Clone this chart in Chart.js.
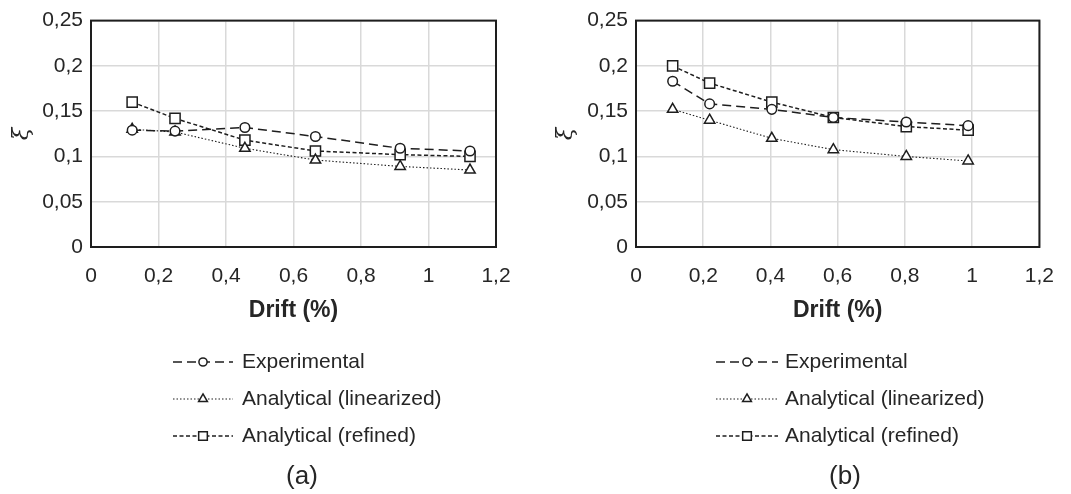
<!DOCTYPE html>
<html>
<head>
<meta charset="utf-8">
<script src="https://cdn.jsdelivr.net/npm/chart.js@4"></script>
<style>
  body { margin: 0; background: #fff; }
  #wrap { display: flex; width: 1071px; height: 494px; }
  canvas { display: block; }
</style>
</head>
<body>
<div id="wrap">
  <canvas id="chartA" width="535" height="494"></canvas>
  <canvas id="chartB" width="536" height="494"></canvas>
</div>
<script>
// ---- data ----
const seriesLabels = ['Experimental', 'Analytical (linearized)', 'Analytical (refined)'];
const xTickLabels = ['0', '0,2', '0,4', '0,6', '0,8', '1', '1,2'];
const yTickLabels = ['0', '0,05', '0,1', '0,15', '0,2', '0,25'];

// (a)
const driftA = [0.122, 0.249, 0.456, 0.665, 0.916, 1.123];
const expA = [0.129, 0.128, 0.132, 0.122, 0.109, 0.106];
const linA = [0.130, 0.127, 0.109, 0.096, 0.089, 0.085];
const refA = [0.160, 0.142, 0.118, 0.106, 0.102, 0.100];

// (b)
const driftB = [0.109, 0.219, 0.404, 0.587, 0.804, 0.988];
const expB = [0.183, 0.158, 0.152, 0.143, 0.138, 0.134];
const linB = [0.152, 0.140, 0.120, 0.1075, 0.100, 0.095];
const refB = [0.200, 0.181, 0.160, 0.143, 0.133, 0.129];

const FONT = "'Liberation Sans', Arial, sans-serif";
const INK = '#1e1e1e';

function pairs(xs, ys) {
    return xs.map((x, i) => ({ x: x, y: ys[i] }));
}

// frame around plot area + legend with line samples + caption
const frameAndLegend = {
    id: 'frameAndLegend',
    beforeDatasetsDraw(chart) {
        const a = chart.chartArea;
        const ctx = chart.ctx;
        ctx.save();
        ctx.strokeStyle = INK;
        ctx.lineWidth = 2;
        ctx.strokeRect(a.left, a.top, a.right - a.left, a.bottom - a.top);
        ctx.restore();
    },
    afterDraw(chart, args, opts) {
        const ctx = chart.ctx;
        ctx.save();
        chart.data.datasets.forEach((ds, i) => {
            const y = opts.rowY[i];
            ctx.strokeStyle = INK;
            ctx.lineWidth = ds.borderWidth;
            ctx.setLineDash(ds.borderDash || []);
            ctx.beginPath();
            ctx.moveTo(opts.sampleX0, y);
            ctx.lineTo(opts.sampleX1, y);
            ctx.stroke();
            ctx.setLineDash([]);
            ctx.fillStyle = '#fff';
            ctx.lineWidth = ds.pointBorderWidth;
            Chart.helpers.drawPoint(ctx, {
                pointStyle: ds.pointStyle,
                radius: ds.pointRadius * 0.85,
                rotation: 0,
                borderWidth: ds.pointBorderWidth
            }, (opts.sampleX0 + opts.sampleX1) / 2, y);
            ctx.fillStyle = '#262626';
            ctx.font = '21px ' + FONT;
            ctx.textBaseline = 'middle';
            ctx.textAlign = 'left';
            ctx.fillText(ds.label, opts.textX, y);
        });
        ctx.font = '26px ' + FONT;
        ctx.textAlign = 'center';
        ctx.fillText(opts.caption, opts.captionX, opts.captionY);
        ctx.restore();
    }
};

function makeChart(id, drift, exp, lin, ref, geo) {
    const common = {
        showLine: true,
        borderColor: INK,
        pointBackgroundColor: '#fff',
        pointBorderColor: INK,
        pointBorderWidth: 1.5,
        fill: false
    };
    return new Chart(document.getElementById(id), {
        type: 'scatter',
        data: {
            datasets: [
                Object.assign({}, common, {
                    label: seriesLabels[0], data: pairs(drift, exp),
                    borderWidth: 1.5, borderDash: [9, 5],
                    pointStyle: 'circle', pointRadius: 4.8
                }),
                Object.assign({}, common, {
                    label: seriesLabels[1], data: pairs(drift, lin),
                    borderWidth: 1.1, borderDash: [1.5, 2],
                    pointStyle: 'triangle', pointRadius: 6
                }),
                Object.assign({}, common, {
                    label: seriesLabels[2], data: pairs(drift, ref),
                    borderWidth: 1.5, borderDash: [4, 2.5],
                    pointStyle: 'rect', pointRadius: 7.2
                })
            ]
        },
        options: {
            responsive: false,
            animation: false,
            layout: {
                padding: { left: 0, top: geo.top, right: geo.right, bottom: geo.bottom }
            },
            plugins: {
                legend: { display: false },
                tooltip: { enabled: false },
                frameAndLegend: {
                    rowY: [362, 399, 436],
                    sampleX0: geo.sampleX0,
                    sampleX1: geo.sampleX1,
                    textX: geo.textX,
                    caption: geo.caption,
                    captionX: geo.captionX,
                    captionY: 477
                }
            },
            scales: {
                x: {
                    type: 'linear',
                    min: 0, max: 1.2,
                    grid: { color: '#d9d9d9', lineWidth: 1.5, drawTicks: false },
                    border: { display: false },
                    ticks: {
                        stepSize: 0.2, padding: 17, color: '#262626',
                        font: { family: FONT, size: 21 },
                        callback: (v, i) => xTickLabels[i]
                    },
                    title: {
                        display: true, text: 'Drift (%)', color: '#262626',
                        font: { family: FONT, size: 23, weight: 'bold' },
                        padding: { top: 0, bottom: 4 }
                    },
                    afterFit: (s) => { s.height = 81; }
                },
                y: {
                    type: 'linear',
                    min: 0, max: 0.25,
                    grid: { color: '#d9d9d9', lineWidth: 1.5, drawTicks: false },
                    border: { display: false },
                    ticks: {
                        stepSize: 0.05, padding: 8, color: '#262626',
                        font: { family: FONT, size: 21 },
                        callback: (v, i) => yTickLabels[i]
                    },
                    title: {
                        display: true, text: 'ξ', color: '#262626',
                        font: { family: "'DejaVu Serif', serif", size: 23, style: 'italic' },
                        padding: { top: geo.titlePad, bottom: 0 }
                    },
                    afterFit: (s) => { s.width = geo.plotLeft; }
                }
            }
        },
        plugins: [frameAndLegend]
    });
}

makeChart('chartA', driftA, expA, linA, refA, {
    plotLeft: 91, top: 19, right: 39, bottom: 166, titlePad: 8,
    sampleX0: 173, sampleX1: 233, textX: 242, caption: '(a)', captionX: 302
});
makeChart('chartB', driftB, expB, linB, refB, {
    plotLeft: 101, top: 17, right: 24, bottom: 166, titlePad: 17,
    sampleX0: 181, sampleX1: 243, textX: 250, caption: '(b)', captionX: 310
});
</script>
</body>
</html>
